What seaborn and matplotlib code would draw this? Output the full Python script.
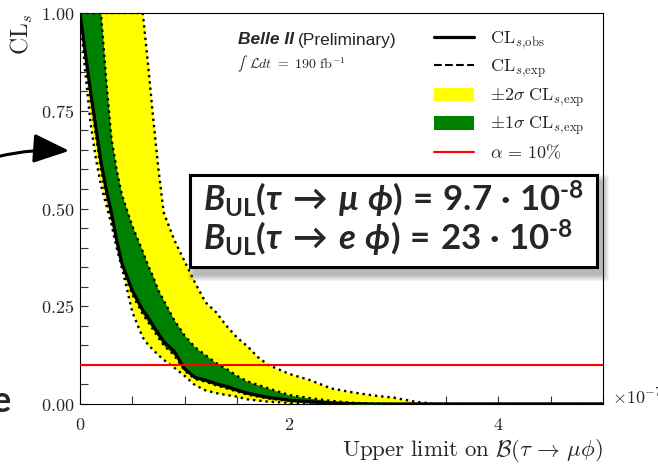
import numpy as np
import pandas as pd
import matplotlib
matplotlib.use("Agg")
import matplotlib.pyplot as plt
import seaborn as sns
from matplotlib.patches import Rectangle, FancyArrowPatch
from matplotlib.ticker import MultipleLocator, FixedLocator, FuncFormatter

# CLs scan versus the tested branching fraction (in units of 1e-7)
br_scan = [0.0, 0.05, 0.1, 0.15, 0.2, 0.25, 0.3, 0.35, 0.4, 0.5, 0.6, 0.65, 0.7, 0.75,
           0.8, 0.9, 1.0, 1.1, 1.2, 1.3, 1.4, 1.5, 1.6, 1.7, 1.8, 2.0, 2.2, 2.4,
           2.6, 2.8, 3.0, 3.2, 3.4, 3.6, 4.0, 4.5, 5.0]
cls_obs = [1.00, 0.90, 0.80, 0.71, 0.62, 0.55, 0.49, 0.42, 0.36, 0.29, 0.24, 0.222, 0.20, 0.18,
           0.16, 0.135, 0.09, 0.068, 0.061, 0.052, 0.045, 0.036, 0.028, 0.022, 0.017, 0.010, 0.006, 0.003,
           0.001, 0.0, 0.0, 0.0, 0.0, 0.0, 0.0, 0.0, 0.0]
cls_exp = [1.00, 0.97, 0.92, 0.85, 0.77, 0.68, 0.59, 0.52, 0.46, 0.38, 0.31, 0.285, 0.26, 0.235,
           0.21, 0.17, 0.135, 0.11, 0.09, 0.078, 0.065, 0.052, 0.042, 0.034, 0.027, 0.016, 0.010, 0.005,
           0.002, 0.0, 0.0, 0.0, 0.0, 0.0, 0.0, 0.0, 0.0]
exp_minus2 = [1.00, 0.85, 0.72, 0.63, 0.56, 0.51, 0.46, 0.40, 0.35, 0.235, 0.17, 0.152, 0.138, 0.125,
              0.113, 0.093, 0.072, 0.048, 0.035, 0.028, 0.023, 0.019, 0.012, 0.009, 0.006, 0.003, 0.001, 0.0,
              0.0, 0.0, 0.0, 0.0, 0.0, 0.0, 0.0, 0.0, 0.0]
exp_minus1 = [1.00, 0.88, 0.78, 0.69, 0.60, 0.53, 0.47, 0.41, 0.35, 0.28, 0.23, 0.21, 0.19, 0.17,
              0.15, 0.125, 0.085, 0.064, 0.057, 0.048, 0.040, 0.032, 0.024, 0.019, 0.014, 0.008, 0.004, 0.002,
              0.0005, 0.0, 0.0, 0.0, 0.0, 0.0, 0.0, 0.0, 0.0]
exp_plus1 = [1.00, 1.00, 1.00, 1.00, 1.00, 0.83, 0.68, 0.60, 0.535, 0.455, 0.39, 0.355, 0.325, 0.29,
             0.265, 0.215, 0.175, 0.145, 0.125, 0.105, 0.09, 0.072, 0.058, 0.049, 0.040, 0.023, 0.015, 0.008,
             0.003, 0.001, 0.0, 0.0, 0.0, 0.0, 0.0, 0.0, 0.0]
exp_plus2 = [1.00, 1.00, 1.00, 1.00, 1.00, 1.00, 1.00, 1.00, 1.00, 1.00, 1.00, 0.87, 0.73, 0.60,
             0.49, 0.42, 0.365, 0.31, 0.26, 0.235, 0.20, 0.17, 0.148, 0.12, 0.10, 0.077, 0.061, 0.040,
             0.030, 0.022, 0.016, 0.006, 0.0, 0.0, 0.0, 0.0, 0.0]
alpha_level = 0.10

x_ticks = [0, 2, 4]
y_ticks = [0.00, 0.25, 0.50, 0.75, 1.00]
legend_labels = [r"$\mathrm{CL}_{s,\!\mathrm{obs}}$",
                 r"$\mathrm{CL}_{s,\!\mathrm{exp}}$",
                 r"$\pm2\sigma\ \mathrm{CL}_{s,\!\mathrm{exp}}$",
                 r"$\pm1\sigma\ \mathrm{CL}_{s,\!\mathrm{exp}}$",
                 r"$\alpha\,=\,10\%$"]
limit_lines = [r"$B_{\mathrm{UL}}(\tau\:\rightarrow\:\mu\ \phi)\,=\,9.7\ \text{·}\ 10^{\text{-8}}$",
               r"$B_{\mathrm{UL}}(\tau\:\rightarrow\:e\ \phi)\,=\,23\ \text{·}\ 10^{\text{-8}}$"]

sns.set_theme(style="ticks")
plt.rcParams.update({
    "font.family": ["DejaVu Sans"],
    "mathtext.fontset": "cm",
    "mathtext.rm": "Lato:bold",
    "mathtext.it": "Lato:bold:italic",
    "mathtext.bf": "Lato:bold",
    "mathtext.sf": "Lato:bold",
    "axes.edgecolor": "black",
    "axes.linewidth": 0.8,
})

W, H = 658, 465
fx = lambda px: px / W
fy = lambda py: 1 - py / H

fig = plt.figure(figsize=(W / 100, H / 100), dpi=100)
ax = fig.add_axes([fx(80), fy(404), fx(603) - fx(80), fy(13) - fy(404)])

df = pd.DataFrame({"br": br_scan, "obs": cls_obs, "exp": cls_exp,
                   "m2": exp_minus2, "m1": exp_minus1, "p1": exp_plus1, "p2": exp_plus2})

# expected median sits beneath the bands
sns.lineplot(data=df, x="br", y="exp", ax=ax, color="black", lw=1.5, ls="--",
             zorder=1, legend=False, estimator=None, sort=False)
band2 = ax.fill_between(df["br"], df["m2"], df["p2"], color="#ffff00", lw=0, zorder=2)
band1 = ax.fill_between(df["br"], df["m1"], df["p1"], color="#008000", lw=0, zorder=3)
for col in ["m2", "p2", "p1", "m1"]:
    ax.plot(df["br"], df[col], ls=":", color="black", lw=1.7, zorder=4)
sns.lineplot(data=df, x="br", y="obs", ax=ax, color="black", lw=2.3,
             zorder=5, legend=False, estimator=None, sort=False)
ax.axhline(alpha_level, color="red", lw=1.5, zorder=6)

h_obs = plt.Line2D([], [], color="black", lw=2.3)
h_exp = plt.Line2D([], [], color="black", lw=1.5, ls="--")
h_red = plt.Line2D([], [], color="red", lw=1.5)
ax.legend([h_obs, h_exp, band2, band1, h_red], legend_labels, loc="upper left",
          bbox_to_anchor=(0.677, 0.958), frameon=False, fontsize=13,
          handlelength=2.2, handleheight=0.75, handletextpad=0.9, labelspacing=0.36,
          borderaxespad=0, borderpad=0)

ax.set_xlim(0, 5)
ax.set_ylim(0, 1)
ax.xaxis.set_major_locator(FixedLocator(x_ticks))
ax.xaxis.set_minor_locator(MultipleLocator(0.5))
ax.yaxis.set_major_locator(FixedLocator(y_ticks))
ax.yaxis.set_minor_locator(MultipleLocator(0.05))
ax.xaxis.set_major_formatter(FuncFormatter(lambda v, p: f"${v:g}$"))
ax.yaxis.set_major_formatter(FuncFormatter(lambda v, p: f"${v:.2f}$"))
ax.tick_params(which="both", direction="in", length=6, width=0.8, color="#333333",
               top=False, right=False)
ax.tick_params(axis="y", which="major", labelsize=13, pad=4)
ax.tick_params(axis="x", which="major", labelsize=13, pad=9)
for s in ax.spines.values():
    s.set_visible(True)
    s.set_color("black")

ax.set_xlabel(r"$\mathrm{Upper\ limit\ on}\ \mathcal{B}(\tau\,\rightarrow\,\mu\phi)$",
              loc="right", fontsize=16.5, labelpad=2)
ax.set_ylabel(r"$\mathrm{CL}_s$", loc="top", fontsize=17, labelpad=4)

fig.text(fx(612), fy(398), r"$\times10^{-7}$", fontsize=13, va="center", ha="left")

# experiment tag
t_belle = fig.text(fx(238), fy(40), "Belle II", family="Liberation Sans",
                   fontweight="bold", fontstyle="italic", fontsize=12.5, va="center")
ax.annotate("(Preliminary)", xy=(1, 0.5), xycoords=t_belle, xytext=(3, 0),
            textcoords="offset points", va="center", ha="left",
            family="Liberation Sans", fontsize=12.5)
t_int = fig.text(fx(237), fy(64), r"$\int$", fontsize=10, va="center",
                 math_fontfamily="stix")
ax.annotate(r"$\mathcal{L}dt\ =\ 190\ \mathrm{fb}^{-1}$", xy=(1, 0.5), xycoords=t_int,
            xytext=(1, 0), textcoords="offset points", va="center", ha="left",
            fontsize=10)

# result box with soft drop shadow
bx0, by0, bx1, by1 = 190, 175, 597, 267
for g in range(7, 0, -1):
    fig.add_artist(Rectangle((fx(bx0 + 5 - g), fy(by1 + 7 + g)),
                             fx(bx1 - bx0 + 2 * g), fy(0) - fy(by1 - by0 + 2 * g),
                             transform=fig.transFigure, facecolor="#555555",
                             edgecolor="none", alpha=0.07, zorder=8))
fig.add_artist(Rectangle((fx(bx0), fy(by1)), fx(bx1 - bx0), fy(0) - fy(by1 - by0),
                         transform=fig.transFigure, facecolor="white",
                         edgecolor="black", lw=2.2, zorder=9))
for line, py in zip(limit_lines, [199, 238]):
    fig.text(fx(203), fy(py), line, fontsize=25, va="center", ha="left",
             math_fontfamily="custom", zorder=10)

# pointer arrow and clipped slide letter on the left margin
fig.add_artist(FancyArrowPatch((fx(-4), fy(157)), (fx(72), fy(151)),
                               transform=fig.transFigure,
                               connectionstyle="arc3,rad=-0.08",
                               arrowstyle="-|>,head_length=1.1,head_width=0.45",
                               mutation_scale=20, lw=2.2, color="black", zorder=10))
fig.text(fx(-8), fy(401), "e", family="Lato", fontweight="bold", fontsize=26,
         va="center", ha="left")

fig.savefig("out.png", dpi=100)
